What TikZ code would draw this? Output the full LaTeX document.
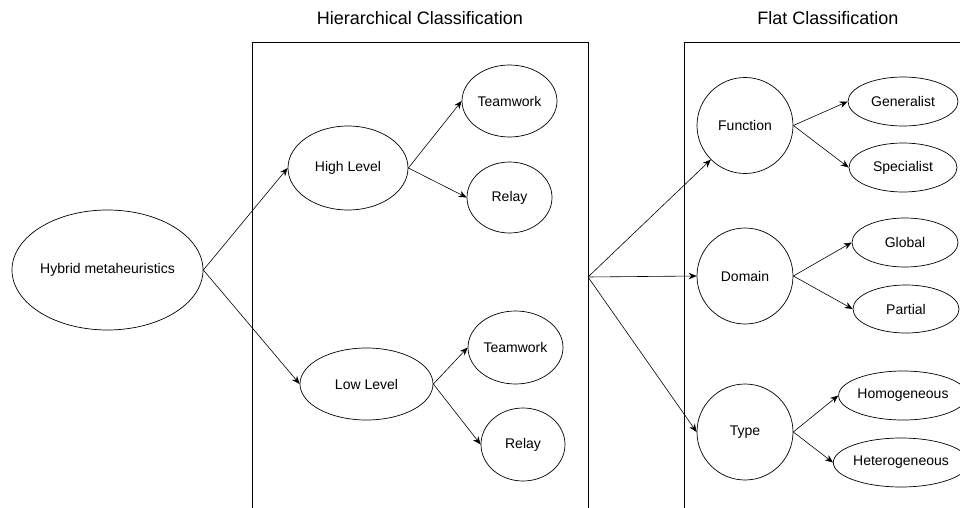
\documentclass[tikz,border=0pt]{standalone}
\usepackage{fontspec}
\setmainfont{Liberation Sans}
\usetikzlibrary{shapes.geometric,arrows.meta}
\begin{document}
\begin{tikzpicture}[x=1pt,y=-1pt,
  ell/.style={draw, ellipse, inner sep=0pt, line width=0.7pt, font=\fontsize{14}{16}\selectfont},
  circ/.style={draw, circle, inner sep=0pt, minimum size=96pt, line width=0.7pt, font=\fontsize{14}{16}\selectfont},
  arr/.style={-{Stealth[length=8pt,width=6.5pt]}, line width=0.6pt},
  frame/.style={draw, line width=1pt, anchor=north west, inner sep=0pt},
  title/.style={font=\fontsize{18}{20}\selectfont}]
\useasboundingbox (0,0) rectangle (960,508);
\clip (0,0) rectangle (960,508);
% frames
\node[frame, minimum width=336pt, minimum height=520pt] (hbox) at (252,42) {};
\node[frame, minimum width=300pt, minimum height=520pt] (fbox) at (684,42) {};
\coordinate (hub) at (588,277);
% titles
\node[title] (t1) at (420,18) {Hierarchical Classification};
\node[title] (t2) at (828,18) {Flat Classification};
% hierarchical
\node[ell, minimum width=191pt, minimum height=120pt] (hm) at (107.5,270) {Hybrid metaheuristics};
\node[ell, minimum width=120pt, minimum height=84pt] (hl) at (348,168) {High Level};
\node[ell, minimum width=95pt, minimum height=72pt] (tw1) at (509.5,101) {Teamwork};
\node[ell, minimum width=85pt, minimum height=71pt] (r1) at (509.5,197.5) {Relay};
\node[ell, minimum width=133pt, minimum height=72pt] (ll) at (366.5,384) {Low Level};
\node[ell, minimum width=95pt, minimum height=73pt] (tw2) at (515.5,347.5) {Teamwork};
\node[ell, minimum width=84pt, minimum height=73pt] (r2) at (523,444.5) {Relay};
% flat
\node[circ] (fn) at (745,125.5) {Function};
\node[circ] (dm) at (745,276) {Domain};
\node[circ] (ty) at (745,432) {Type};
\node[ell, minimum width=110pt, minimum height=49pt] (gen) at (903,101.5) {Generalist};
\node[ell, minimum width=108pt, minimum height=49pt] (spe) at (903,167.5) {Specialist};
\node[ell, minimum width=106pt, minimum height=49pt] (glo) at (905,242.5) {Global};
\node[ell, minimum width=106pt, minimum height=48pt] (par) at (906,309) {Partial};
\node[ell, minimum width=108pt, minimum height=49pt] (hom) at (903,395.5) {Homogeneous};
\node[ell, minimum width=118pt, minimum height=49pt] (het) at (901,462.5) {Heterogeneous};
% connectors
\draw[arr] (hm.east) -- (hl.west);
\draw[arr] (hm.east) -- (ll.west);
\draw[arr] (hl.east) -- (tw1.west);
\draw[arr] (hl.east) -- (r1.west);
\draw[arr] (ll.east) -- (tw2.west);
\draw[arr] (ll.east) -- (r2.west);
\draw[arr] (hub) -- (fn.225);
\draw[arr] (hub) -- (dm.west);
\draw[arr] (hub) -- (ty.west);
\draw[arr] (fn.east) -- (gen.west);
\draw[arr] (fn.east) -- (spe.west);
\draw[arr] (dm.east) -- (glo.west);
\draw[arr] (dm.east) -- (par.west);
\draw[arr] (ty.east) -- (hom.west);
\draw[arr] (ty.east) -- (het.west);
\end{tikzpicture}
\end{document}
